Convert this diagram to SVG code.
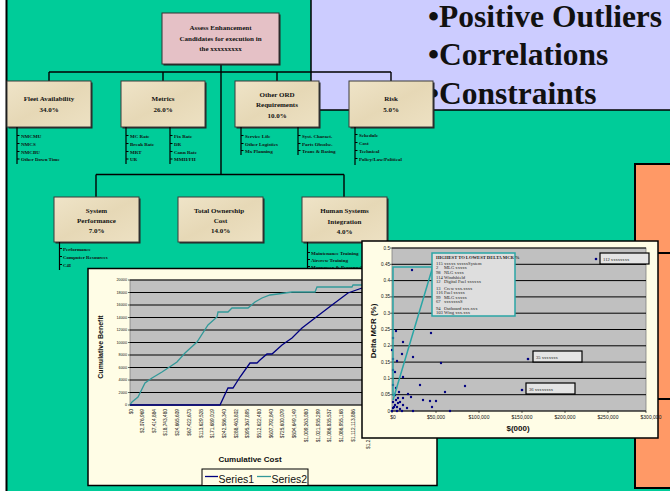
<svg xmlns="http://www.w3.org/2000/svg" width="670" height="491" viewBox="0 0 670 491">
<style>
.s{font-family:"Liberation Serif","Times New Roman",serif;font-weight:bold;fill:#111}
.bt{font-size:7px;text-anchor:middle}
.li{font-size:5px}
.box{fill:#EEE2C4;stroke:#3a3a3a;stroke-width:1}
.sh{fill:#222}
.bl{stroke:#000;stroke-width:1.2;fill:none}
.a{font-family:"Liberation Sans",Arial,sans-serif;fill:#111}
.grid{stroke:#000;stroke-width:1}
.cr{font-family:"Liberation Serif","Times New Roman",serif;font-size:4.6px;fill:#222}
.pt{fill:#000080}
.lb{fill:#E4E4E4;stroke:#000;stroke-width:1.2}
</style>
<defs>
<linearGradient id="parch" x1="0" y1="0" x2="1" y2="1">
<stop offset="0" stop-color="#EFE4C8"/><stop offset="0.5" stop-color="#E6D8B6"/><stop offset="1" stop-color="#EDE1C3"/>
</linearGradient>
</defs>
<rect x="0" y="0" width="670" height="491" fill="#00CC99"/>
<rect x="0" y="0" width="6" height="491" fill="#FFFFFF"/>
<line x1="6.5" y1="0" x2="6.5" y2="491" stroke="#000" stroke-width="2"/>
<g id="outliers-panel">
<rect x="311" y="-2" width="362" height="112" fill="#CCCCFF" stroke="#000" stroke-width="1.5"/>
<g class="s" font-size="31.5">
<text x="428" y="27">•Positive Outliers</text>
<text x="428" y="65">•Correlations</text>
<text x="428" y="104">•Constraints</text>
</g>
</g>
<g id="orange-panel">
<rect x="635" y="164" width="40" height="324" fill="#FF9966" stroke="#000" stroke-width="2"/>
<path d="M635 253H670M635 399H670" stroke="#000" stroke-width="2"/>
</g>
<g id="connectors">
<path d="M221 64V175M49 72H391M49 72V81M163 72V81M277 72V81M391 72V81M96 174.5H344M96 174.5V197M344 174.5V197" stroke="#000" stroke-width="1.4" fill="none"/>
</g>
<g id="node-root">
<rect class="sh" x="163.5" y="14.5" width="117" height="51"/>
<rect x="162" y="13" width="117" height="51" fill="#E5C1C6" stroke="#333" stroke-width="1"/>
<text class="s bt" x="220.5" y="30">Assess Enhancement</text>
<text class="s bt" x="220.5" y="41">Candidates for execution in</text>
<text class="s bt" x="220.5" y="51">the xxxxxxxxx</text>
</g>
<g id="node-fleet">
<rect class="sh" x="8.5" y="82.5" width="84" height="46"/>
<rect class="box" style="fill:url(#parch)" x="7" y="81" width="84" height="46"/>
<text class="s bt" x="49" y="101">Fleet Availability</text>
<text class="s bt" x="49" y="111.5">34.0%</text>
<path class="bl" d="M17 127V164M17 135.5H19.5M17 143.5H19.5M17 151.5H19.5M17 159H19.5"/>
<g class="s li"><text x="21" y="137.5">NMCMU</text><text x="21" y="145.5">NMCS</text><text x="21" y="153.5">NMCBU</text><text x="21" y="161">Other Down Time</text></g>
</g>
<g id="node-metrics">
<rect class="sh" x="122.5" y="82.5" width="84" height="46"/>
<rect class="box" style="fill:url(#parch)" x="121" y="81" width="84" height="46"/>
<text class="s bt" x="163" y="101">Metrics</text>
<text class="s bt" x="163" y="111.5">26.0%</text>
<path class="bl" d="M126 127V164M126 135.5H128.5M126 143.5H128.5M126 151.5H128.5M126 159H128.5M170 127V164M170 135.5H172.5M170 143.5H172.5M170 151.5H172.5M170 159H172.5"/>
<g class="s li"><text x="130" y="137.5">MC Rate</text><text x="130" y="145.5">Break Rate</text><text x="130" y="153.5">MRT</text><text x="130" y="161">UR</text>
<text x="174" y="137.5">Fix Rate</text><text x="174" y="145.5">DR</text><text x="174" y="153.5">Cann Rate</text><text x="174" y="161">MMH/FH</text></g>
</g>
<g id="node-ord">
<rect class="sh" x="236.5" y="82.5" width="84" height="46"/>
<rect class="box" style="fill:url(#parch)" x="235" y="81" width="84" height="46"/>
<text class="s bt" x="277" y="97">Other ORD</text>
<text class="s bt" x="277" y="107">Requirements</text>
<text class="s bt" x="277" y="118">10.0%</text>
<path class="bl" d="M241 127V155M241 135.5H243.5M241 143.5H243.5M241 150.5H243.5M298 127V155M298 135.5H300.5M298 143.5H300.5M298 150.5H300.5"/>
<g class="s li"><text x="245" y="137.5">Service Life</text><text x="245" y="145.5">Other Logistics</text><text x="245" y="152.5">Mx Planning</text>
<text x="302" y="137.5">Syst. Charact.</text><text x="302" y="145.5">Parts Obsolsc.</text><text x="302" y="152.5">Trans &amp; Basing</text></g>
</g>
<g id="node-risk">
<rect class="sh" x="350.5" y="82.5" width="84" height="46"/>
<rect class="box" style="fill:url(#parch)" x="349" y="81" width="84" height="46"/>
<text class="s bt" x="391" y="101">Risk</text>
<text class="s bt" x="391" y="111.5">5.0%</text>
<path class="bl" d="M355 127V165M355 134.5H357.5M355 142.5H357.5M355 150.5H357.5M355 158.5H357.5"/>
<g class="s li"><text x="359" y="136.5">Schedule</text><text x="359" y="144.5">Cost</text><text x="359" y="152.5">Technical</text><text x="359" y="160.5">Policy/Law/Political</text></g>
</g>
<g id="node-sysperf">
<rect class="sh" x="55.5" y="198.5" width="85" height="45"/>
<rect class="box" style="fill:url(#parch)" x="54" y="197" width="85" height="45"/>
<text class="s bt" x="96.5" y="213">System</text>
<text class="s bt" x="96.5" y="223">Performance</text>
<text class="s bt" x="96.5" y="233">7.0%</text>
<path class="bl" d="M59.5 242V270M59.5 248.5H62M59.5 256.5H62M59.5 264.5H62"/>
<g class="s li"><text x="63" y="250.5">Performance</text><text x="63" y="258.5">Computer Resources</text><text x="63" y="266.5">C4I</text></g>
</g>
<g id="node-toc">
<rect class="sh" x="179.5" y="198.5" width="85" height="45"/>
<rect class="box" style="fill:url(#parch)" x="178" y="197" width="85" height="45"/>
<text class="s bt" x="219" y="213">Total Ownership</text>
<text class="s bt" x="220.5" y="223">Cost</text>
<text class="s bt" x="220.5" y="233">14.0%</text>
</g>
<g id="node-hsi">
<rect class="sh" x="303.5" y="198.5" width="85" height="45"/>
<rect class="box" style="fill:url(#parch)" x="302" y="197" width="85" height="45"/>
<text class="s bt" x="344.5" y="213">Human Systems</text>
<text class="s bt" x="344.5" y="224">Integration</text>
<text class="s bt" x="344.5" y="234">4.0%</text>
<path class="bl" d="M307.5 242V270M307.5 252.5H310M307.5 259.5H310M307.5 266.5H310"/>
<g class="s li"><text x="311" y="254.5">Maintenance Training</text><text x="311" y="261.5">Aircrew Training</text><text x="311" y="268.5">Manpower &amp; Personnel</text></g>
</g>
<g id="chart-cumulative">
<rect x="88" y="268.5" width="349" height="217" fill="#FFFDE6" stroke="#000" stroke-width="1.5"/>
<rect x="130" y="280" width="240" height="125" fill="#C0C0C0" stroke="#808080" stroke-width="0.8"/>
<path class="grid" d="M130 280H370M130 292.5H370M130 305H370M130 317.5H370M130 330H370M130 342.5H370M130 355H370M130 367.5H370M130 380H370M130 392.5H370M130 405H370"/>
<path d="M128 280H130M128 292.5H130M128 305H130M128 317.5H130M128 330H130M128 342.5H130M128 355H130M128 367.5H130M128 380H130M128 392.5H130M128 405H130" stroke="#000" stroke-width="0.6"/>
<g class="a" font-size="3.8" text-anchor="end">
<text x="127" y="281.3">20000</text><text x="127" y="293.8">18000</text><text x="127" y="306.3">16000</text><text x="127" y="318.8">14000</text><text x="127" y="331.3">12000</text><text x="127" y="343.8">10000</text><text x="127" y="356.3">8000</text><text x="127" y="368.8">6000</text><text x="127" y="381.3">4000</text><text x="127" y="393.8">2000</text><text x="127" y="406.3">0</text>
</g>
<g class="a" font-size="4.8" text-anchor="end">
<text transform="translate(133.4 409) rotate(-90)">$0</text>
<text transform="translate(144 409) rotate(-90)">$2,076,969</text>
<text transform="translate(155.7 409) rotate(-90)">$7,414,884</text>
<text transform="translate(167.4 409) rotate(-90)">$18,743,480</text>
<text transform="translate(179.1 409) rotate(-90)">$24,665,609</text>
<text transform="translate(190.8 409) rotate(-90)">$67,422,673</text>
<text transform="translate(202.5 409) rotate(-90)">$113,629,528</text>
<text transform="translate(214.2 409) rotate(-90)">$171,689,019</text>
<text transform="translate(225.9 409) rotate(-90)">$242,586,340</text>
<text transform="translate(237.6 409) rotate(-90)">$288,463,802</text>
<text transform="translate(249.3 409) rotate(-90)">$395,367,895</text>
<text transform="translate(261 409) rotate(-90)">$512,622,480</text>
<text transform="translate(272.7 409) rotate(-90)">$607,792,840</text>
<text transform="translate(284.4 409) rotate(-90)">$725,600,079</text>
<text transform="translate(296.1 409) rotate(-90)">$804,649,149</text>
<text transform="translate(307.8 409) rotate(-90)">$1,009,263,080</text>
<text transform="translate(319.5 409) rotate(-90)">$1,021,935,299</text>
<text transform="translate(331.2 409) rotate(-90)">$1,086,835,537</text>
<text transform="translate(342.9 409) rotate(-90)">$1,086,955,168</text>
<text transform="translate(354.6 409) rotate(-90)">$1,112,113,886</text>
<text transform="translate(369.5 449) rotate(-90)" text-anchor="start">$1,2</text>
</g>
<polyline fill="none" stroke="#339999" stroke-width="1.3" points="130,405 132,402 138,397 145,383 152,378 162,372 177,362 185,353 197,342 208,325 217,317 218,312 228,312 232,308 248,308 255,302 262,298 270,295 278,294 292,292 315,292 317,287 352,287 353,285 370,285"/>
<polyline fill="none" stroke="#000080" stroke-width="1.3" points="130,405 220,405 228,388 233,388 240,377 250,363 257,363 260,360 267,354 272,354 282,345 292,338 302,328 315,318 332,305 348,293 362,288 370,284"/>
<text class="a" font-size="7" font-weight="bold" text-anchor="middle" transform="translate(102.5 347) rotate(-90)">Cumulative Benefit</text>
<text class="a" font-size="8" font-weight="bold" x="250" y="462" text-anchor="middle">Cumulative Cost</text>
<rect x="202" y="469" width="106" height="16.5" fill="#FFFDE6" stroke="#000" stroke-width="1"/>
<line x1="205" y1="476.5" x2="218" y2="476.5" stroke="#000080" stroke-width="1.3"/>
<text class="a" font-size="10.5" x="218.5" y="483">Series1</text>
<line x1="257" y1="476.5" x2="271" y2="476.5" stroke="#339999" stroke-width="1.3"/>
<text class="a" font-size="10.5" x="271.5" y="483">Series2</text>
</g>
<g id="chart-delta-mcr">
<rect x="362" y="241" width="296" height="197" fill="#FFFDE6" stroke="#000" stroke-width="1.5"/>
<rect x="392" y="248" width="254" height="163" fill="#C0C0C0" stroke="#808080" stroke-width="0.8"/>
<path class="grid" d="M392 248H646M392 264.3H646M392 280.6H646M392 296.9H646M392 313.2H646M392 329.5H646M392 345.8H646M392 362.1H646M392 378.4H646M392 394.7H646M392 411H646"/>
<path d="M390 248H392M390 264.3H392M390 280.6H392M390 296.9H392M390 313.2H392M390 329.5H392M390 345.8H392M390 362.1H392M390 378.4H392M390 394.7H392M390 411H392M392 411V413M436 411V413M479 411V413M522 411V413M565 411V413M608 411V413M646 411V413" stroke="#000" stroke-width="0.6"/>
<g class="a" font-size="4.6" text-anchor="end">
<text x="390" y="249.5">0.5</text><text x="390" y="265.8">0.45</text><text x="390" y="282.1">0.4</text><text x="390" y="298.4">0.35</text><text x="390" y="314.7">0.3</text><text x="390" y="331">0.25</text><text x="390" y="347.3">0.2</text><text x="390" y="363.6">0.15</text><text x="390" y="379.9">0.1</text><text x="390" y="396.2">0.05</text><text x="390" y="412.5">0</text>
</g>
<g class="a" font-size="5" text-anchor="middle">
<text x="393" y="419">$0</text><text x="436" y="419">$50,000</text><text x="479" y="419">$100,000</text><text x="522" y="419">$150,000</text><text x="565" y="419">$200,000</text><text x="608" y="419">$250,000</text><text x="651" y="419">$300,000</text>
</g>
<text class="a" font-size="8" font-weight="bold" x="518" y="431" text-anchor="middle">$(000)</text>
<text class="a" font-size="8" font-weight="bold" text-anchor="middle" transform="translate(376 331) rotate(-90)">Delta MCR (%)</text>
<g class="pt">
<circle cx="412" cy="270" r="1.2"/><circle cx="431" cy="333" r="1.2"/><circle cx="396" cy="331" r="1.2"/><circle cx="403" cy="342" r="1.2"/><circle cx="393" cy="338" r="1.2"/><circle cx="402" cy="354" r="1.2"/><circle cx="413" cy="357" r="1.2"/><circle cx="397" cy="361" r="1.2"/><circle cx="441" cy="363" r="1.2"/><circle cx="393" cy="359" r="1.2"/><circle cx="395" cy="372" r="1.2"/><circle cx="393" cy="370" r="1.2"/><circle cx="403" cy="377" r="1.2"/><circle cx="420" cy="385" r="1.2"/><circle cx="465" cy="386" r="1.2"/><circle cx="399" cy="392" r="1.2"/><circle cx="445" cy="392" r="1.2"/><circle cx="408" cy="394" r="1.2"/><circle cx="411" cy="397" r="1.2"/><circle cx="396" cy="400" r="1.2"/><circle cx="393" cy="402" r="1.2"/><circle cx="403" cy="398" r="1.2"/><circle cx="423" cy="400" r="1.2"/><circle cx="430" cy="401" r="1.2"/><circle cx="436" cy="401" r="1.2"/><circle cx="398" cy="403" r="1.2"/><circle cx="395" cy="405" r="1.2"/><circle cx="403" cy="405" r="1.2"/><circle cx="432" cy="407" r="1.2"/><circle cx="407" cy="408" r="1.2"/><circle cx="393" cy="408" r="1.2"/><circle cx="400" cy="409" r="1.2"/><circle cx="413" cy="411" r="1.2"/><circle cx="450" cy="411" r="1.2"/><circle cx="392" cy="411" r="1.2"/><circle cx="397" cy="411" r="1.2"/><circle cx="402" cy="411" r="1.2"/><circle cx="394" cy="407" r="1.2"/><circle cx="397" cy="407" r="1.2"/><circle cx="395" cy="395" r="1.2"/><circle cx="398" cy="398" r="1.2"/><circle cx="393" cy="385" r="1.2"/><circle cx="396" cy="388" r="1.2"/><circle cx="400" cy="402" r="1.2"/><circle cx="392" cy="350" r="1.2"/>
<circle cx="596" cy="259" r="1.3"/><circle cx="528" cy="359" r="1.3"/><circle cx="522" cy="390" r="1.3"/>
</g>
<path d="M393 396V267H432M393 400L433 266" fill="none" stroke="#2AA5A5" stroke-width="1.5"/>
<rect x="432" y="253" width="83" height="63" fill="#DEDEDE" stroke="#2AA5A5" stroke-width="1.5"/>
<text class="cr" font-weight="bold" x="436" y="259">HIGHEST TO LOWEST DELTA MCR %</text>
<g class="cr">
<text x="436" y="265">115</text><text x="444" y="265">xxxxx xxxxxSystem</text>
<text x="436" y="268.5">2</text><text x="444" y="268.5">MLG xxxxx</text>
<text x="436" y="274">98</text><text x="444" y="274">NLG xxxx</text>
<text x="436" y="279">114</text><text x="444" y="279">Windshield</text>
<text x="436" y="283">12</text><text x="444" y="283">Digital Fuel xxxxxx</text>
<text x="436" y="290">13</text><text x="444" y="290">Crew xxx.xxxx</text>
<text x="436" y="294">116</text><text x="444" y="294">Fuel xxxxx</text>
<text x="436" y="299">99</text><text x="444" y="299">MLG xxxxx</text>
<text x="436" y="303">67</text><text x="444" y="303">xxxxxxxS</text>
<text x="436" y="310">94</text><text x="444" y="310">Outboard xxx.xxx</text>
<text x="436" y="313.5">103</text><text x="444" y="313.5">Wing xxx.xxx</text>
</g>
<rect class="lb" x="600" y="253" width="49" height="11"/>
<text class="cr" font-size="5" x="603" y="260.5">112  xxxxxxxx</text>
<rect class="lb" x="533" y="351" width="49" height="11"/>
<text class="cr" font-size="5" x="536" y="358.5">35 xxxxxxx</text>
<rect class="lb" x="526" y="383" width="49" height="11"/>
<text class="cr" font-size="5" x="529" y="390.5">36 xxxxxxxx</text>
</g>
</svg>
